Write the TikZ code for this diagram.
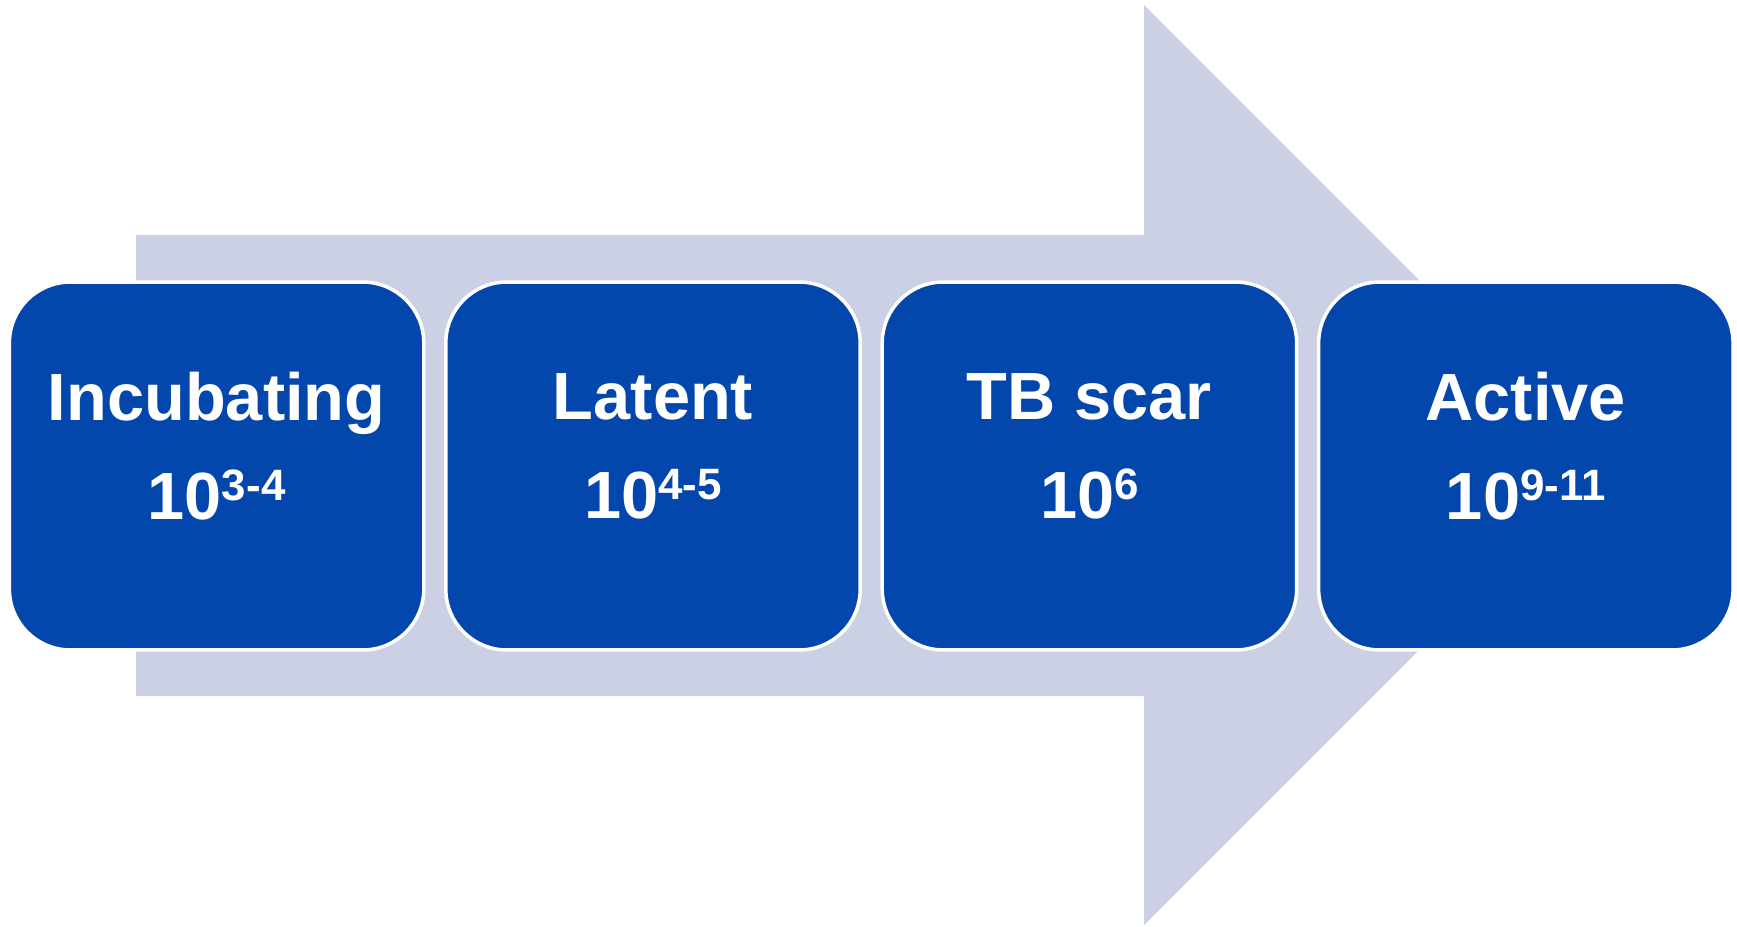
\documentclass[tikz,border=0pt]{standalone}
\usepackage{fontspec}
\setmainfont{Liberation Sans}
\usepackage{tikz}
\usetikzlibrary{positioning}

\definecolor{stageblue}{RGB}{3,71,172}
\definecolor{arrowgray}{RGB}{203,208,228}

% exponent on the counts
\newcommand{\pw}[1]{\raisebox{0.38cm}{\fontsize{25}{25}\selectfont #1}}

\tikzset{
  stage/.style={draw=white, line width=0.07cm, fill=stageblue, rounded corners=1.22cm,
    minimum width=8.29cm, minimum height=7.36cm, inner sep=0pt, outer sep=0pt},
  stagetext/.style={text=white, align=center, font=\bfseries\fontsize{38}{56.3}\selectfont, inner sep=0pt}
}

\begin{document}
\begin{tikzpicture}[x=0.02cm, y=-0.02cm]
\useasboundingbox (0,0) rectangle (1737,926);

% big arrow behind
\fill [arrowgray] (136,235) -- (1144,235) -- (1144,5) -- (1604,465) -- (1144,925) -- (1144,696) -- (136,696) -- cycle;

\node [stage] (inc) at (216.6,466) {};
\node [stage, right=0.44cm of inc] (lat) {};
\node [stage, right=0.44cm of lat] (scar) {};
\node [stage, right=0.44cm of scar] (act) {};

\node [stagetext] (inc-t) at ([yshift=0.4cm]inc.center) {Incubating\\10\pw{3-4}};
\node [stagetext] (lat-t) at ([yshift=0.4cm]lat.center) {Latent\\10\pw{4-5}};
\node [stagetext] (scar-t) at ([yshift=0.4cm]scar.center) {TB scar\\10\pw{6}};
\node [stagetext] (act-t) at ([yshift=0.4cm]act.center) {Active\\10\pw{9-11}};
\end{tikzpicture}
\end{document}
